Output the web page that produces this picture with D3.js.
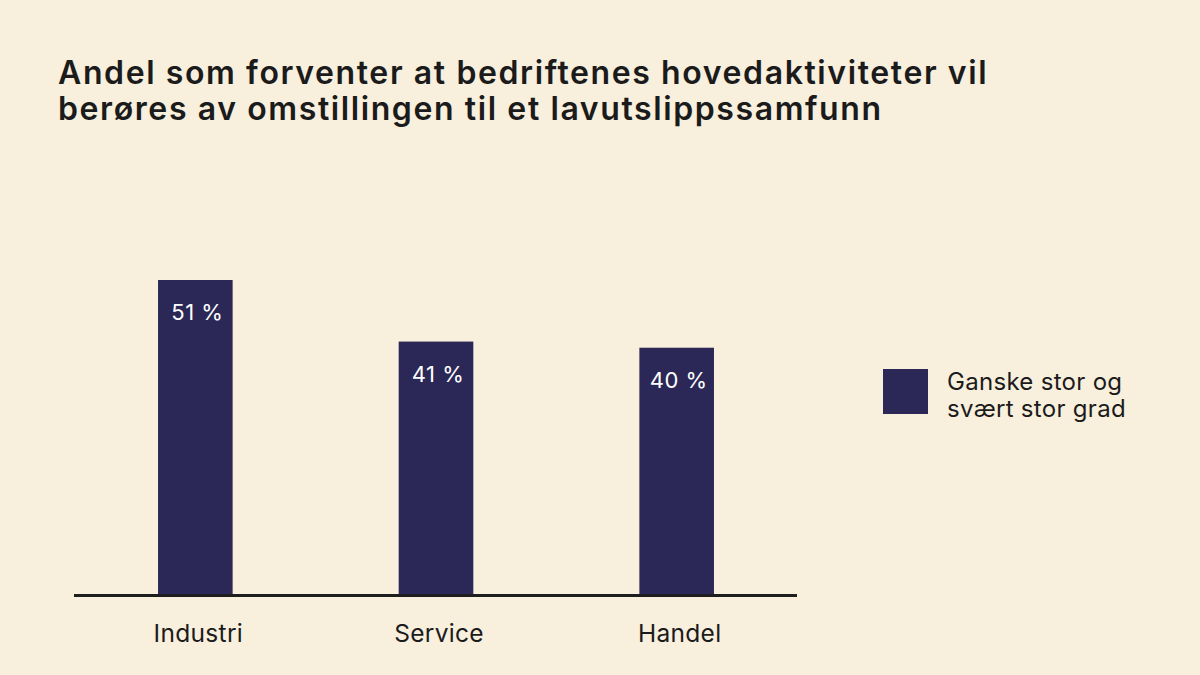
<!DOCTYPE html>
<html><head><meta charset="utf-8">
<script src="https://cdn.jsdelivr.net/npm/d3@7"></script>
<style>
html,body{margin:0;padding:0;background:#f8efdd;}
svg{display:block;}
</style></head>
<body>
<script>
const categories = ["Industri", "Service", "Handel"];
const values = [51, 41, 40];
const seriesName = ["Ganske stor og", "svært stor grad"];
const titleLines = ["Andel som forventer at bedriftenes hovedaktiviteter vil", "berøres av omstillingen til et lavutslippssamfunn"];

const W = 1200, H = 675;
const barColor = "#2b2858", textColor = "#1b1b1b", bg = "#f8efdd";
const font = "Inter, 'Liberation Sans', sans-serif";

const svg = d3.select("body").append("svg").attr("width", W).attr("height", H);
svg.append("rect").attr("width", W).attr("height", H).attr("fill", bg);

svg.append("g").selectAll("text").data(titleLines).join("text")
  .attr("x", 58).attr("y", (d,i) => 84 + i*36)
  .attr("font-family", font).attr("font-weight", 600).attr("font-size", 32)
  .attr("letter-spacing", 1.6)
  .attr("fill", textColor).text(d => d);

const x = d3.scaleBand().domain(categories).range([75, 797]).paddingInner(0.69).paddingOuter(0.345);
const y = d3.scaleLinear().domain([0, 51]).range([594, 280]);

svg.append("g").selectAll("rect").data(values).join("rect")
  .attr("x", (d,i) => x(categories[i])).attr("width", x.bandwidth())
  .attr("y", d => y(d)).attr("height", d => y(0) - y(d)).attr("fill", barColor);

svg.append("g").selectAll("text").data(values).join("text")
  .attr("x", (d,i) => x(categories[i]) + x.bandwidth()/2 + 2).attr("y", d => y(d) + 40)
  .attr("text-anchor", "middle").attr("font-family", font).attr("font-size", 22)
  .attr("letter-spacing", 0.5)
  .attr("fill", "#ffffff").text(d => d + " %");

const axis = d3.axisBottom(x).tickSize(0).tickPadding(29);
const ag = svg.append("g").attr("transform", "translate(0,595.5)").call(axis);
ag.select(".domain").attr("stroke", "#1e1e1e").attr("stroke-width", 3).attr("d", "M74,0H797");
ag.selectAll("text").attr("font-family", font).attr("font-size", 24.5).attr("letter-spacing", 0.3)
  .attr("dx", 3).attr("fill", textColor);

const lg = svg.append("g");
lg.append("rect").attr("x", 883).attr("y", 369).attr("width", 45).attr("height", 45).attr("fill", barColor);
lg.selectAll("text").data(seriesName).join("text")
  .attr("x", 947).attr("y", (d,i) => 390 + i*27)
  .attr("font-family", font).attr("font-size", 24).attr("letter-spacing", 0.3)
  .attr("fill", textColor).text(d => d);
</script>
</body></html>
